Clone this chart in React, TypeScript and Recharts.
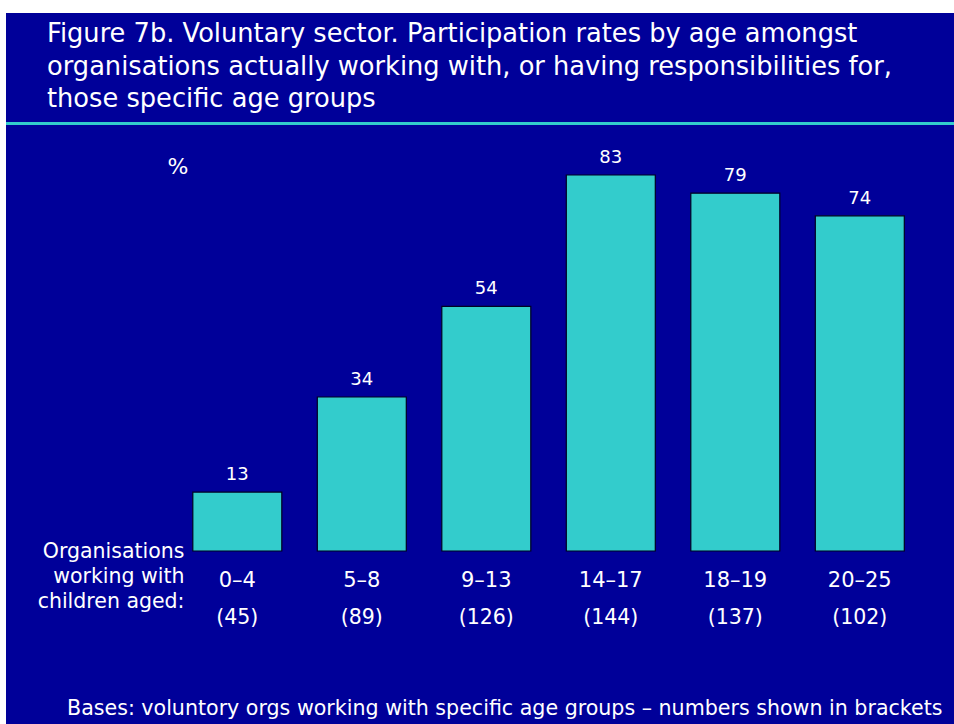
import React from "react";
import { BarChart, Bar, XAxis, YAxis, LabelList } from "recharts";

const categories = ["0–4", "5–8", "9–13", "14–17", "18–19", "20–25"];
const rates = [13, 34, 54, 83, 79, 74];
const bases = [45, 89, 126, 144, 137, 102];

const titleLines = [
  "Figure 7b. Voluntary sector. Participation rates by age amongst",
  "organisations actually working with, or having responsibilities for,",
  "those specific age groups",
];
const rowLabelLines = ["Organisations", "working with", "children aged:"];
const footnote =
  "Bases: voluntory orgs working with specific age groups – numbers shown in brackets";

const data = categories.map((c, i) => ({ age: c, pct: rates[i], base: bases[i] }));

const FONT = "'DejaVu Sans', Verdana, sans-serif";
const BG = "#000099";
const TEAL = "#33CCCC";

const AgeTick = (props: any) => {
  const { x, y, payload, index } = props;
  return (
    <g>
      <text x={x} y={y + 35.5} textAnchor="middle" fill="#fff" fontSize={21} fontFamily={FONT}>
        {payload.value}
      </text>
      <text x={x} y={y + 73} textAnchor="middle" fill="#fff" fontSize={20.5} fontFamily={FONT}>
        {`(${bases[index]})`}
      </text>
    </g>
  );
};

export default function App() {
  return (
    <div style={{ position: "absolute", left: 0, top: 0, width: 954, height: 724, background: "#fff", overflow: "hidden" }}>
      <div style={{ position: "absolute", left: 6, top: 13, width: 948, height: 711, background: BG }} />
      <svg width={954} height={724} style={{ position: "absolute", left: 0, top: 0 }}>
        {titleLines.map((t, i) => (
          <text key={i} x={47} y={42.3 + i * 32.5} fill="#fff" fontSize={25.7} fontFamily={FONT}>
            {t}
          </text>
        ))}
        <rect x={6} y={122} width={948} height={3} fill={TEAL} />
        <text x={178} y={174.3} textAnchor="middle" fill="#fff" fontSize={22} fontFamily={FONT}>
          %
        </text>
        {rowLabelLines.map((t, i) => (
          <text key={i} x={184.5} y={558.3 + i * 25} textAnchor="end" fill="#fff" fontSize={20.5} fontFamily={FONT}>
            {t}
          </text>
        ))}
        <text x={67} y={715.3} fill="#fff" fontSize={20.6} fontFamily={FONT}>
          {footnote}
        </text>
      </svg>
      <div style={{ position: "absolute", left: 0, top: 0 }}>
        <BarChart
          width={954}
          height={724}
          data={data}
          margin={{ top: 98, right: 32, bottom: 93, left: 175 }}
          barCategoryGap="14.3%"
        >
          <XAxis
            dataKey="age"
            height={80}
            axisLine={false}
            tickLine={false}
            tickSize={0}
            tickMargin={0}
            interval={0}
            tick={<AgeTick />}
          />
          <YAxis hide domain={[0, 100]} />
          <Bar dataKey="pct" fill={TEAL} stroke="#000022" strokeWidth={1.2} isAnimationActive={false}>
            <LabelList dataKey="pct" position="top" offset={12} fill="#fff" fontSize={18} fontFamily={FONT} />
          </Bar>
        </BarChart>
      </div>
    </div>
  );
}
